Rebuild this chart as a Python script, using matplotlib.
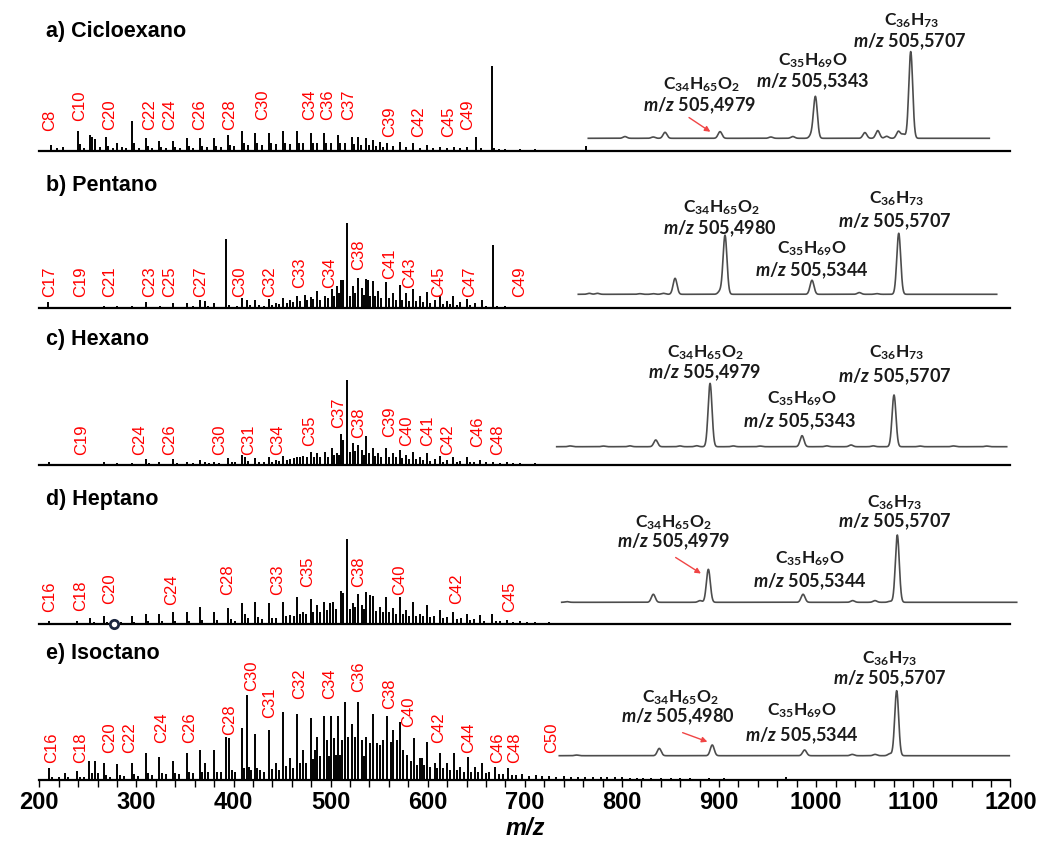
import numpy as np
import matplotlib
matplotlib.use("Agg")
import matplotlib.pyplot as plt
from matplotlib.patches import FancyArrowPatch
from matplotlib.ticker import MultipleLocator

plt.rcParams['font.family'] = ['Liberation Sans', 'DejaVu Sans']
plt.rcParams['mathtext.fontset'] = 'custom'
plt.rcParams['mathtext.rm'] = 'Lato:bold'
plt.rcParams['mathtext.it'] = 'Lato:italic:bold'
plt.rcParams['mathtext.bf'] = 'Lato:bold'

# ---------------------------------------------------------------- data
solvents = ['a) Cicloexano', 'b) Pentano', 'c) Hexano', 'd) Heptano', 'e) Isoctano']

# (m/z, relative intensity %) of the full spectra
cyclohexane_peaks = [
    (211.7, 7), (217.9, 3.5), (224.7, 4.7), (240.2, 23.5), (242.2, 8), (246.5, 4), (252.2, 19), (254.6, 17),
    (257.4, 14), (262.0, 5), (268.7, 16.5), (271.0, 6), (275.5, 4), (280.4, 9.4), (284.8, 4.7), (289.0, 3),
    (295.1, 35), (297.1, 10), (302.5, 4), (309.5, 15), (311.5, 6), (316.5, 4), (323.6, 12), (325.6, 5),
    (330.5, 4), (337.4, 12), (339.4, 5), (344.5, 4), (351.8, 15), (353.8, 6), (358.5, 4), (365.5, 15),
    (367.5, 6), (372.5, 5), (380.3, 15), (382.3, 6), (387.0, 5), (394.0, 19), (396.0, 7), (401.0, 6),
    (408.4, 23.5), (410.4, 9), (415.0, 7), (422.1, 21), (424.1, 9), (429.0, 7), (436.9, 21), (438.9, 9),
    (443.5, 8), (451.3, 23.5), (453.3, 10), (458.0, 8), (465.1, 23.5), (467.1, 10), (472.0, 9), (479.5, 21),
    (481.5, 10), (486.0, 9), (493.2, 21), (495.2, 10), (500.0, 9), (508.0, 19), (510.0, 9), (514.5, 9),
    (521.7, 16.5), (523.7, 8), (528.6, 16), (531.0, 7), (536.5, 15), (539.0, 7), (544.0, 13), (546.5, 6),
    (550.9, 11), (553.5, 5), (557.7, 9.4), (564.0, 6), (571.5, 11), (578.0, 5), (585.2, 9), (592.0, 4),
    (598.9, 7), (605.5, 3.5), (612.7, 5), (619.5, 3), (627.1, 5), (633.5, 3), (640.1, 5), (649.8, 16.5),
    (655.0, 3), (665.9, 100), (668.0, 4), (673.0, 2), (680.0, 2.5), (688.0, 1.5), (695.0, 2), (703.0, 1.5),
    (710.0, 2), (718.0, 1.5), (725.0, 1.5), (740.0, 1.5), (762.9, 6), (784.0, 1.5),
]

pentane_peaks = [
    (209.3, 7), (224.7, 1.2), (238.5, 1.8), (252.2, 1.2), (259.1, 1.8), (266.6, 3), (270.0, 1.2), (280.4, 2.4),
    (288.0, 1.2), (295.1, 2.4), (302.0, 1.2), (309.5, 7), (316.0, 1.5), (324.3, 2.4), (331.0, 1.5), (338.0, 6),
    (345.0, 2), (351.8, 6), (358.0, 2.5), (365.5, 9.5), (370.7, 8.3), (374.0, 3), (380.3, 6), (385.0, 2),
    (391.9, 81), (395.7, 3.6), (400.0, 2), (404.0, 3), (408.4, 12), (413.6, 9.5), (417.0, 4), (422.1, 9.5),
    (426.0, 4), (431.0, 3), (436.9, 10.7), (440.0, 4), (443.8, 6), (447.0, 5), (451.3, 12), (455.0, 6),
    (458.2, 9.5), (461.0, 7), (465.1, 14), (468.0, 9), (473.6, 15.5), (476.0, 10), (479.5, 13), (482.0, 11),
    (485.7, 20), (489.0, 10), (494.2, 14), (497.0, 12), (501.1, 22.6), (503.5, 15), (506.3, 26), (508.5, 18),
    (510.4, 33), (513.1, 33), (516.6, 100), (519.5, 15), (522.7, 26), (525.5, 18), (528.6, 36), (532.0, 24),
    (534.0, 16), (536.5, 34.5), (538.9, 33), (541.0, 15), (543.4, 32), (546.0, 14), (549.2, 20), (552.0, 12),
    (557.1, 31), (560.0, 12), (564.6, 18), (567.0, 10), (571.5, 27), (574.0, 10), (577.6, 18), (581.0, 8),
    (585.2, 22.6), (588.0, 8), (592.1, 14), (595.0, 7), (598.9, 19), (602.0, 6), (607.5, 9.5), (612.7, 14),
    (616.0, 5), (619.5, 8.3), (623.0, 5), (626.4, 14), (630.0, 4), (633.3, 7), (640.1, 10.7), (644.0, 4),
    (648.7, 6), (655.6, 9.5), (660.0, 3), (666.9, 74), (671.0, 3), (676.0, 2), (680.0, 2.4), (688.0, 1.5),
    (695.0, 2), (702.0, 1.5), (710.0, 1.8), (725.0, 1.5), (740.0, 1.5), (757.0, 1.5), (784.0, 1.5),
]

hexane_peaks = [
    (210.0, 3.6), (224.7, 1.2), (238.5, 1.2), (252.2, 1.2), (266.6, 3.6), (270.0, 1.5), (280.4, 2.4), (284.8, 1.2),
    (295.1, 2.4), (302.0, 1.5), (309.5, 7.2), (313.0, 2), (323.6, 3.6), (330.0, 1.5), (338.0, 7.2), (342.0, 2.5),
    (351.8, 3.6), (358.0, 2), (365.5, 6), (370.7, 3.5), (375.0, 2.5), (380.3, 3.6), (385.0, 2.5), (394.0, 8.4),
    (398.0, 3), (402.0, 3), (408.4, 12), (411.8, 9.6), (415.0, 5), (422.1, 8.4), (426.0, 4), (431.0, 4),
    (436.9, 9.6), (440.0, 4), (443.8, 6), (447.0, 5), (451.3, 10.8), (455.0, 6), (458.2, 7), (462.0, 8),
    (465.1, 9.6), (468.0, 10), (471.9, 10.8), (476.0, 9), (480.0, 15.6), (483.0, 9), (485.7, 14.4), (489.0, 10),
    (494.2, 15.6), (497.0, 10), (501.1, 20.4), (503.5, 12), (506.3, 14.4), (508.5, 12), (510.4, 36), (513.1, 30),
    (516.6, 100), (519.5, 15), (522.7, 26.4), (525.5, 16), (528.6, 24), (532.0, 18), (534.0, 12), (536.5, 33.6),
    (539.0, 14), (543.4, 20.4), (546.0, 11), (549.2, 14.4), (552.0, 10), (557.1, 20.4), (560.0, 10), (564.6, 14.4),
    (567.0, 9), (571.5, 18), (574.0, 8), (577.6, 12), (581.0, 7), (585.2, 15.6), (588.0, 7), (592.1, 9.6),
    (595.0, 6), (598.9, 14.4), (602.0, 5), (607.5, 7.2), (612.7, 10.8), (616.0, 4), (619.5, 6), (626.4, 9.6),
    (630.0, 4), (633.3, 5), (640.1, 9.6), (644.0, 4), (648.0, 4), (653.9, 6), (660.0, 3.5), (667.6, 4),
    (674.0, 2.5), (681.3, 4), (688.0, 2), (695.0, 2.5), (702.0, 1.5), (710.0, 2), (725.0, 1.5), (740.0, 1.5),
    (757.0, 1.5), (784.0, 1.2),
]

heptane_peaks = [
    (210.3, 3.5), (224.7, 1.5), (238.5, 3.5), (252.2, 6.6), (256.0, 2), (266.6, 9.3), (270.0, 2.5), (280.4, 4.7),
    (284.0, 2), (295.1, 9.3), (298.0, 2.5), (309.5, 11.7), (312.0, 3), (323.6, 11.7), (326.0, 3), (337.4, 14),
    (340.0, 3.5), (351.8, 14), (354.0, 4), (365.5, 19.8), (368.0, 5), (380.3, 14), (383.0, 5), (394.0, 18.7),
    (397.0, 6), (402.0, 4), (408.4, 24.5), (411.8, 11.7), (415.0, 7), (422.1, 25.7), (425.0, 8), (429.0, 6),
    (436.9, 24.5), (440.0, 7), (444.0, 7), (451.3, 25.7), (454.0, 9), (458.2, 10.5), (462.0, 9), (465.1, 31.5),
    (468.0, 12), (471.9, 14), (475.0, 12), (479.5, 29), (482.0, 14), (485.7, 22), (489.0, 14), (493.2, 25.7),
    (496.0, 16), (499.4, 24.5), (502.8, 25.7), (506.0, 18), (510.4, 38.5), (513.1, 36), (517.2, 100), (520.0, 18),
    (522.7, 24.5), (525.5, 20), (528.6, 35), (532.0, 22), (534.0, 18), (536.5, 37.3), (540.6, 34), (543.4, 32.7),
    (546.5, 15), (550.9, 19.8), (553.5, 14), (557.1, 31.5), (560.0, 14), (564.6, 18.7), (567.5, 12), (571.5, 31.5),
    (574.5, 12), (577.6, 16.3), (581.0, 10), (585.2, 25.7), (588.0, 10), (592.0, 12), (595.0, 9), (598.9, 22),
    (602.0, 8), (606.0, 9), (612.7, 16.3), (616.0, 7), (620.0, 8), (626.4, 14), (630.0, 6), (634.0, 7),
    (640.1, 11.7), (644.0, 5), (648.0, 6), (653.9, 10.5), (658.0, 4), (665.9, 11.7), (670.0, 3), (674.0, 3),
    (681.3, 4.7), (688.0, 2.5), (695.0, 3), (702.0, 2), (710.0, 2.5), (718.0, 1.5), (725.0, 2), (740.0, 1.5),
    (757.0, 1.5), (770.0, 1.2), (784.0, 1.2),
]

isooctane_peaks = [
    (210.0, 13.8), (213.0, 4), (220.0, 3), (226.5, 7.9), (230.0, 3), (238.5, 10.6), (242.0, 4), (246.0, 3),
    (251.5, 22.7), (254.0, 8), (257.4, 22.7), (260.0, 8), (266.6, 20.4), (269.0, 6), (273.0, 4), (280.4, 18.5),
    (283.0, 6), (287.0, 5), (295.1, 20.4), (298.0, 7), (302.0, 5), (309.5, 32.1), (312.0, 8), (316.0, 6),
    (323.6, 27.4), (326.0, 8), (330.0, 7), (337.4, 22.7), (340.0, 8), (344.0, 7), (351.8, 32.1), (354.0, 9),
    (358.0, 8), (365.5, 35.3), (368.0, 10), (370.7, 19.6), (374.0, 9), (380.3, 35.3), (383.0, 10), (387.0, 9),
    (392.3, 51), (395.7, 49), (398.0, 12), (402.0, 10), (408.4, 60.8), (411.0, 14), (413.6, 100), (416.0, 15),
    (418.5, 12), (422.1, 54), (424.5, 14), (427.3, 11.8), (431.0, 10), (436.9, 58.8), (439.5, 13), (443.8, 19.6),
    (447.0, 12), (451.3, 80.4), (454.0, 16), (458.2, 25.5), (461.0, 14), (465.1, 77.6), (468.0, 20), (471.9, 35.3),
    (475.0, 20), (479.5, 72.6), (481.5, 25), (483.9, 35.3), (486.3, 51), (489.5, 28), (493.2, 75.3), (496.6, 47),
    (498.5, 28), (500.4, 75.3), (503.8, 49), (505.5, 30), (507.3, 75.3), (509.5, 30), (511.4, 47), (514.8, 92.1),
    (518.3, 51), (521.7, 65.5), (525.1, 51), (528.6, 92.1), (532.0, 47), (534.0, 28), (536.5, 51), (540.6, 43),
    (543.4, 77.6), (547.5, 43), (550.9, 41.2), (554.3, 47), (557.7, 75.3), (561.9, 45), (564.6, 58.8), (568.0, 47),
    (571.5, 68.6), (574.9, 35.3), (579.0, 29.4), (582.5, 22), (585.9, 49.8), (589.0, 18), (592.1, 25.5),
    (593.8, 25.5), (596.5, 18), (598.9, 45), (602.5, 15), (607.5, 19.6), (610.0, 14), (612.7, 31.4), (616.0, 14),
    (619.5, 19.6), (623.0, 12), (627.1, 32.1), (630.0, 12), (633.3, 15.7), (637.0, 10), (641.9, 27.4), (645.0, 10),
    (648.7, 15.7), (652.0, 9), (655.6, 19.6), (660.0, 8), (663.0, 9), (669.3, 15.7), (673.0, 7), (677.0, 7),
    (683.0, 13.8), (687.0, 6), (691.0, 6), (697.0, 7), (704.0, 5), (711.0, 6), (718.0, 4.5), (725.0, 5),
    (732.0, 4), (740.0, 4.5), (748.0, 3.5), (755.0, 4), (762.0, 3.5), (770.0, 3.5), (778.0, 3), (785.0, 3),
    (793.0, 3), (800.0, 3), (808.0, 2.5), (815.0, 2.5), (822.0, 2), (830.0, 2.5), (840.0, 2), (850.0, 2),
    (860.0, 2), (870.0, 2), (880.0, 1.5), (890.0, 2), (905.0, 2), (915.0, 1.5), (925.0, 1.5), (950.0, 1.5),
    (968.8, 4),
]

# carbon-number labels: (label, m/z, label base height in % units)
cyclohexane_labels = [
    ('C8', 211.0, 23), ('C10', 241.9, 35), ('C20', 272.8, 25), ('C22', 314.0, 25), ('C24', 334.6, 25),
    ('C26', 365.5, 25), ('C28', 396.4, 25), ('C30', 430.4, 36), ('C34', 478.8, 36), ('C36', 497.3, 36),
    ('C37', 519.0, 36), ('C39', 561.2, 16), ('C42', 591.1, 16), ('C45', 622.0, 16), ('C49', 641.5, 25),
]
pentane_labels = [
    ('C17', 210.3, 13.6), ('C19', 242.6, 13.6), ('C21', 272.8, 13.6), ('C23', 313.3, 13.6), ('C25', 333.9, 13.6),
    ('C27', 366.5, 13.6), ('C30', 406.7, 13.6), ('C32', 436.9, 13.6), ('C33', 468.5, 23.5), ('C34', 499.4, 23.5),
    ('C38', 528.5, 45), ('C41', 561.2, 34), ('C43', 581.8, 23.5), ('C45', 610.9, 13.6), ('C47', 643.6, 13.6),
    ('C49', 695.1, 13.6),
]
hexane_labels = [
    ('C19', 243.7, 11.8), ('C24', 303.7, 11.8), ('C26', 334.6, 11.8), ('C30', 386.1, 11.8), ('C31', 416.0, 11.8),
    ('C34', 445.8, 11.8), ('C35', 478.8, 22.4), ('C37', 508.6, 43.5), ('C38', 529.2, 31.8), ('C39', 561.2, 33),
    ('C40', 578.7, 22.4), ('C41', 600.3, 22.4), ('C42', 620.9, 11.8), ('C46', 651.8, 21.5), ('C48', 672.4, 11.8),
]
heptane_labels = [
    ('C16', 211.0, 14.5), ('C18', 242.6, 15.6), ('C20', 272.8, 23.5), ('C24', 336.4, 22.4), ('C28', 394.3, 34),
    ('C33', 445.8, 34), ('C35', 476.7, 44), ('C38', 529.2, 44), ('C40', 571.4, 34), ('C42', 630.1, 23.5),
    ('C45', 684.7, 14.5),
]
isooctane_labels = [
    ('C16', 212.8, 20.4), ('C18', 242.9, 20.4), ('C20', 272.1, 32), ('C22', 293.4, 32), ('C24', 326.1, 44),
    ('C26', 355.2, 44), ('C28', 396.4, 53), ('C30', 418.7, 105), ('C31', 436.9, 72.5), ('C32', 468.5, 95),
    ('C34', 499.4, 95), ('C36', 528.5, 104), ('C38', 561.2, 83), ('C40', 580.0, 62), ('C42', 610.9, 43),
    ('C44', 641.8, 31.4), ('C46', 671.7, 20.4), ('C48', 689.9, 20.4), ('C50', 727.7, 31.4),
]

# zoom around m/z 505: labelled ions (formula, exact m/z, relative %) and minor peaks (m/z, relative %)
zoom_ions = [
    [('C$_{34}$H$_{65}$O$_2$', 505.4979, 7.7), ('C$_{35}$H$_{69}$O', 505.5343, 48.1), ('C$_{36}$H$_{73}$', 505.5707, 100)],
    [('C$_{34}$H$_{65}$O$_2$', 505.4980, 96.7), ('C$_{35}$H$_{69}$O', 505.5344, 23.0), ('C$_{36}$H$_{73}$', 505.5707, 100)],
    [('C$_{34}$H$_{65}$O$_2$', 505.4979, 100), ('C$_{35}$H$_{69}$O', 505.5343, 17.4), ('C$_{36}$H$_{73}$', 505.5707, 81.7)],
    [('C$_{34}$H$_{65}$O$_2$', 505.4979, 49.0), ('C$_{35}$H$_{69}$O', 505.5344, 11.9), ('C$_{36}$H$_{73}$', 505.5707, 100)],
    [('C$_{34}$H$_{65}$O$_2$', 505.4980, 16.5), ('C$_{35}$H$_{69}$O', 505.5344, 8.8), ('C$_{36}$H$_{73}$', 505.5707, 100)],
]
zoom_minor = [
    [(505.4616, 2), (505.4724, 1.5), (505.4769, 6.9), (505.5173, 1.5), (505.5257, 2), (505.5327, 3.5),
     (505.5532, 6.6), (505.5581, 8.9), (505.5615, 2.3), (505.5660, 8.1), (505.5679, 4.6)],
    [(505.4412, 1.6), (505.4446, 1.6), (505.4624, 1.0), (505.4680, 1.0), (505.4722, 1.6), (505.4771, 26.2),
     (505.4959, 5), (505.5542, 2.8), (505.5615, 1.1)],
    [(505.4425, 1.2), (505.4557, 1.0), (505.4662, 1.3), (505.4764, 10.6), (505.4860, 1.2), (505.4926, 1.5),
     (505.5071, 1.2), (505.5177, 1.0), (505.5441, 1.3), (505.5537, 2.7), (505.5625, 1.3), (505.5810, 1.0),
     (505.5942, 1.2), (505.6074, 1.0)],
    [(505.4434, 1.0), (505.4767, 11.9), (505.4947, 2.5), (505.5535, 2.5), (505.5621, 2.5), (505.5679, 1.5)],
    [(505.4445, 1.0), (505.4771, 11.2), (505.5532, 2.0), (505.5622, 2.0), (505.5680, 3.0)],
]

heptane_marker_mz = 277.2

all_peaks = [cyclohexane_peaks, pentane_peaks, hexane_peaks, heptane_peaks, isooctane_peaks]
all_labels = [cyclohexane_labels, pentane_labels, hexane_labels, heptane_labels, isooctane_labels]

# ---------------------------------------------------------------- layout (pixels)
W, H = 1044, 841
X_LEFT, X_RIGHT = 39.3, 1010.4
FULL_SCALE_PX = 85.0
baselines = [151, 308.3, 465, 624, 780]
title_y = [31, 185, 339, 500, 654]
# zoom panels: left px, right px, baseline px, height px, m/z range
zoom_boxes = [
    (588.3, 989.3, 138.3, 86.7, (505.4476, 505.6007)),
    (578.3, 996.7, 294.3, 61.0, (505.4366, 505.6117)),
    (556.7, 1006.7, 446.7, 63.3, (505.4372, 505.6153)),
    (561.7, 1016.7, 602.3, 67.3, (505.4414, 505.6167)),
    (559.3, 1009.3, 755.7, 65.0, (505.4377, 505.6151)),
]
# text baselines for each labelled ion: (formula x, formula y, m/z-line x, m/z-line y)
zoom_text_pos = [
    [(701.7, 89.5, 700, 111), (813.3, 65.4, 813, 87.7), (911.7, 25.4, 910, 47.7)],
    [(721.7, 212, 720, 234.3), (811.7, 253.7, 811.7, 276), (896.7, 203.7, 895, 227.7)],
    [(705, 357, 705, 378.7), (801.7, 403.7, 800, 427.7), (896.7, 357, 895, 382.7)],
    [(673.3, 527, 673.3, 547.7), (810, 563.7, 810, 587.7), (895, 507, 895, 527.7)],
    [(680, 702, 678.3, 722), (801.7, 715.4, 801.7, 741), (890, 663.7, 890, 684.3)],
]
arrows = {0: ((686.7, 116), (712.7, 133.3)),
          3: ((673.3, 556), (703.3, 575)),
          4: ((680, 731.7), (710, 742.7))}


def fx(px):
    return px / W


def fy(py):
    return 1 - py / H


fig = plt.figure(figsize=(W / 100, H / 100), dpi=100)

for i, (name, peaks, labels) in enumerate(zip(solvents, all_peaks, all_labels)):
    base = baselines[i]
    ax = fig.add_axes([fx(X_LEFT), fy(base), (X_RIGHT - X_LEFT) / W, FULL_SCALE_PX / H])
    ax.set_xlim(200, 1200)
    ax.set_ylim(0, 100)
    mz = [p[0] for p in peaks]
    inten = [p[1] for p in peaks]
    ax.vlines(mz, 0, inten, color='black', lw=1.4)
    for s in ('top', 'right', 'left'):
        ax.spines[s].set_visible(False)
    ax.spines['bottom'].set_linewidth(1.6)
    ax.patch.set_visible(False)
    ax.set_yticks([])
    if i == len(solvents) - 1:
        ax.xaxis.set_major_locator(MultipleLocator(100))
        ax.xaxis.set_minor_locator(MultipleLocator(20))
        ax.tick_params(axis='x', which='both', direction='out', length=5, width=1.0, pad=3)
        for lab in ax.get_xticklabels():
            lab.set_fontsize(17)
            lab.set_fontweight('bold')
        ax.set_xlabel('m/z', fontsize=17, fontweight='bold', fontstyle='italic', labelpad=2)
    else:
        ax.set_xticks([])

    for text, lmz, ly in labels:
        ax.text(lmz, ly, text, rotation=90, ha='center', va='bottom',
                color='#ff0000', fontsize=12, clip_on=False)

    if i == 3:
        ax.plot([heptane_marker_mz], [0], marker='o', ms=6, mfc='white', mec='#1b2640',
                mew=2, clip_on=False, zorder=5)

    fig.text(fx(46), fy(title_y[i]), name, fontsize=15.5, fontweight='bold', ha='left', va='center')

    # zoomed profile around m/z 505
    left, right, zbase, zh, (z0, z1) = zoom_boxes[i]
    iax = fig.add_axes([fx(left), fy(zbase), (right - left) / W, zh / H])
    iax.set_xlim(z0, z1)
    iax.set_ylim(0, 100)
    iax.axis('off')
    grid = np.linspace(z0, z1, 4000)
    sigma = 4.6 / (right - left) * (z1 - z0) / 2.355
    centres = [p[1] for p in zoom_ions[i]] + [p[0] for p in zoom_minor[i]]
    heights = [p[2] for p in zoom_ions[i]] + [p[1] for p in zoom_minor[i]]
    profile = np.zeros_like(grid)
    for c, h in zip(centres, heights):
        profile += h * np.exp(-0.5 * ((grid - c) / sigma) ** 2)
    iax.plot(grid, profile, color='#4d4d4d', lw=1.2, clip_on=False)

    for (formula, ion_mz, _), (tx, ty, mx, my) in zip(zoom_ions[i], zoom_text_pos[i]):
        fig.text(fx(tx), fy(ty), formula, ha='center', va='baseline', fontsize=12.5,
                 family='Lato', fontweight='bold', color='#1a1a1a')
        mz_txt = f'{ion_mz:.4f}'.replace('.', ',')
        fig.text(fx(mx), fy(my), '$m/z$ ' + mz_txt, ha='center', va='baseline', fontsize=13,
                 family='Lato', fontweight='bold', color='#1a1a1a')

    if i in arrows:
        (x0, y0), (x1, y1) = arrows[i]
        fig.add_artist(FancyArrowPatch((fx(x0), fy(y0)), (fx(x1), fy(y1)), transform=fig.transFigure,
                                       arrowstyle='-|>', mutation_scale=8, color='#f04545', lw=1.0))

fig.savefig('out.png', dpi=100)
